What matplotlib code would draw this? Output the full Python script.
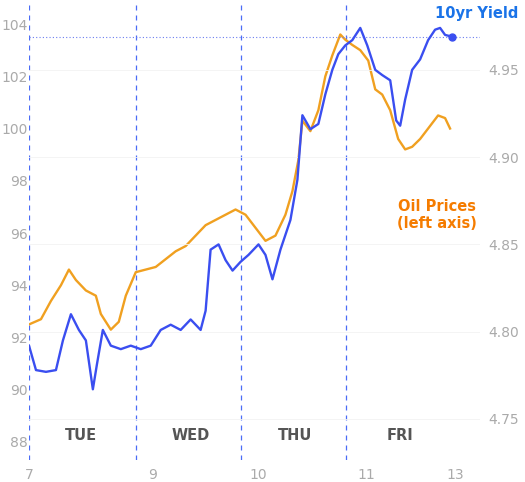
import matplotlib
matplotlib.use("Agg")
import matplotlib.pyplot as plt

oil_t = [28,40,50,60,68,75,85,95,100,110,118,125,135,145,155,165,175,185,195,205,215,225,235,245,255,265,275,285,292,298,302,310,318,325,332,340,345,352,360,368,375,382,390,398,405,412,420,428,438,445,450]
oil_v = [92.5,92.7,93.4,94.0,94.6,94.2,93.8,93.6,92.9,92.3,92.6,93.6,94.5,94.6,94.7,95.0,95.3,95.5,95.9,96.3,96.5,96.7,96.9,96.7,96.2,95.7,95.9,96.7,97.6,98.8,100.3,99.9,100.7,102.0,102.8,103.6,103.4,103.2,103.0,102.6,101.5,101.3,100.7,99.6,99.2,99.3,99.6,100.0,100.5,100.4,100.0]
yld_t = [28,35,45,55,62,70,78,85,92,96,102,110,120,130,140,150,160,170,180,190,200,205,210,218,225,232,240,248,258,265,272,280,290,297,302,310,318,325,332,338,345,352,360,367,375,382,390,396,400,405,412,420,428,435,440,445,452]
yld_v = [4.792,4.778,4.777,4.778,4.795,4.810,4.801,4.795,4.767,4.781,4.801,4.792,4.790,4.792,4.790,4.792,4.801,4.804,4.801,4.807,4.801,4.812,4.847,4.850,4.841,4.835,4.840,4.844,4.850,4.844,4.830,4.847,4.864,4.887,4.924,4.916,4.919,4.936,4.950,4.959,4.964,4.967,4.974,4.964,4.950,4.947,4.944,4.921,4.918,4.933,4.950,4.956,4.967,4.973,4.974,4.970,4.969]
day_lines = [28,135,240,346]
day_labels = ["TUE","WED","THU","FRI"]
day_pos = [80,190,295,400]
x_ticks = [28,152,258,366,455]
x_labels = ["7","9","10","11","13"]
left_ticks = [88,90,92,94,96,98,100,102,104]
right_ticks = [4.75,4.80,4.85,4.90,4.95]

fig = plt.figure(figsize=(5.25,4.82), dpi=100)
ax = fig.add_axes([29/525, 22/482, 451/525, 460/482])
ax.set_xlim(28, 480)
ax.set_ylim(87.31, 104.92)
ax2 = ax.twinx()
ax2.set_ylim(4.7265, 4.990)

for a in (ax, ax2):
    for s in a.spines.values():
        s.set_visible(False)
    a.tick_params(length=0, labelsize=10, labelcolor="#aaaaaa")

ax.set_yticks(left_ticks)
ax.set_yticklabels([str(v) for v in left_ticks])
ax.tick_params(axis="y", pad=1)
ax2.set_yticks(right_ticks)
ax2.set_yticklabels([f"{v:.2f}" for v in right_ticks])
ax2.tick_params(axis="y", pad=6)
for v in right_ticks:
    ax2.axhline(v, color="#f2f2f2", lw=0.6, zorder=0)
ax.set_xticks(x_ticks)
ax.set_xticklabels(x_labels)
ax.tick_params(axis="x", pad=6)

for d in day_lines:
    ax.axvline(d, color="#4a6cf7", lw=0.9, ls=(0,(4,4)), zorder=1)
for p, l in zip(day_pos, day_labels):
    ax.text(p, 88.25, l, ha="center", va="center", fontsize=10.5, fontweight="bold", color="#555555")

ax.plot(oil_t, oil_v, color="#f0a020", lw=1.7, zorder=3)
ax2.plot(yld_t, yld_v, color="#3a4ef0", lw=1.7, zorder=4)
ax2.plot([yld_t[-1]], [yld_v[-1]], "o", color="#3a4ef0", ms=5, zorder=5)
ax2.axhline(yld_v[-1], color="#6a7cf0", lw=0.8, ls=(0,(1,2)), zorder=2)

ax2.text(477, 4.982, "10yr Yield", ha="center", va="center", fontsize=10.5, fontweight="bold", color="#1a73e8")
ax.text(437, 96.7, "Oil Prices\n(left axis)", ha="center", va="center", fontsize=10.5, fontweight="bold", color="#f57c00", linespacing=1.2)

fig.savefig("out.png", dpi=100)
